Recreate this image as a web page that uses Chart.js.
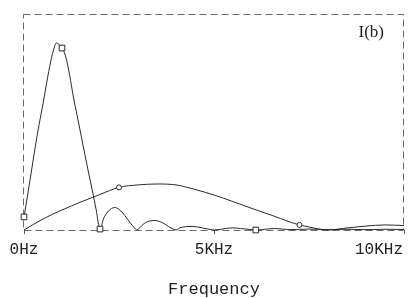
<!DOCTYPE html>
<html>
<head>
<meta charset="utf-8">
<script src="https://cdn.jsdelivr.net/npm/chart.js@4.4.1/dist/chart.umd.min.js"></script>
<style>
  body { margin: 0; background: #fff; }
  canvas { display: block; }
</style>
</head>
<body>
<canvas id="myChart" width="409" height="298"></canvas>
<script>
// frequency in kHz, current normalised to the main peak
const freqA = [0, 0.1, 0.2, 0.3, 0.4, 0.5, 0.6, 0.7, 0.8, 0.85, 0.9, 1.0, 1.1, 1.2, 1.3, 1.4, 1.5, 1.6, 1.7, 1.8, 1.9, 2.0,
               2.1, 2.2, 2.3, 2.4, 2.5, 2.6, 2.7, 2.8, 2.9, 2.97,
               3.1, 3.2, 3.3, 3.44, 3.6, 3.7, 3.8, 3.9, 4.0,
               4.1, 4.25, 4.45, 4.7, 4.9, 5.02,
               5.3, 5.5, 5.7, 6.0, 6.1, 6.4, 6.6, 6.8, 7.0, 7.5, 8.0, 8.5, 9.0, 9.5, 10.0];
const currentA = [0.070, 0.193, 0.321, 0.449, 0.567, 0.674, 0.791, 0.898, 0.979, 1.0, 0.995, 0.973, 0.925, 0.829, 0.711, 0.610, 0.508, 0.406, 0.305, 0.209, 0.107, 0.005,
                  0.064, 0.096, 0.115, 0.120, 0.110, 0.091, 0.064, 0.037, 0.013, 0.0,
                  0.024, 0.040, 0.048, 0.051, 0.043, 0.032, 0.019, 0.008, 0.0,
                  0.011, 0.018, 0.019, 0.011, 0.003, 0.0,
                  0.008, 0.011, 0.008, 0.002, 0.0, 0.005, 0.008, 0.005, 0.002, 0.005, 0.002, 0.004, 0.002, 0.004, 0.003];
const markersA = [0, 1.0, 2.0, 6.1];

const freqB = [0, 0.5, 1.0, 1.5, 2.0, 2.5, 3.0, 3.5, 4.0, 4.5, 5.0, 5.5, 6.0, 6.5, 7.0, 7.25, 7.5, 8.0, 8.5, 9.0, 9.5, 10.0];
const currentB = [0, 0.059, 0.107, 0.150, 0.190, 0.228, 0.241, 0.246, 0.241, 0.217, 0.187, 0.152, 0.115, 0.080, 0.043, 0.027, 0.016, 0, 0.011, 0.021, 0.027, 0.024];
const markersB = [2.5, 7.25];

const xTicks = [0, 5, 10];
const xTickLabels = ['0Hz', '5KHz', '10KHz'];
const traceLabel = 'I(b)';

const toPoints = (xs, ys) => xs.map((x, i) => ({x: x, y: ys[i]}));
const markRadius = (list, r) => ctx => (ctx.raw && list.includes(ctx.raw.x)) ? r : 0;

const frame = {
  id: 'frame',
  beforeDatasetsDraw(chart) {
    const c = chart.ctx, a = chart.chartArea;
    c.save();
    // dashed plot border
    c.strokeStyle = '#6a6a6a';
    c.lineWidth = 1;
    c.setLineDash([7, 4]);
    c.strokeRect(a.left - 0.5, a.top + 0.5, a.right - a.left, a.bottom - a.top);
    c.restore();
  },
  afterDraw(chart) {
    const c = chart.ctx, a = chart.chartArea, sx = chart.scales.x;
    c.save();
    // tick labels, kept inside the canvas
    c.fillStyle = '#222';
    c.font = '16px "Liberation Mono", monospace';
    c.textBaseline = 'middle';
    xTicks.forEach((v, i) => {
      const w = c.measureText(xTickLabels[i]).width;
      let px = sx.getPixelForValue(v) - w / 2;
      px = Math.max(2, Math.min(px, chart.width - 6 - w));
      c.fillText(xTickLabels[i], px, a.bottom + 20);
    });
    // trace name
    c.font = '17px "Liberation Serif", serif';
    c.textAlign = 'right';
    c.fillText(traceLabel, a.right - 20, a.top + 19);
    c.restore();
  }
};

const ctx = document.getElementById('myChart').getContext('2d');
const ibChart = new Chart(ctx, {
  type: 'line',
  data: {
    datasets: [{
      label: 'I(b) main',
      data: toPoints(freqA, currentA),
      clip: false,
      borderColor: '#2a2a2a',
      borderWidth: 1,
      cubicInterpolationMode: 'monotone',
      pointStyle: 'rect',
      pointRadius: markRadius(markersA, 4),
      pointBackgroundColor: '#fff',
      pointBorderColor: '#2a2a2a',
      pointBorderWidth: 1
    }, {
      label: 'I(b) second',
      data: toPoints(freqB, currentB),
      clip: false,
      borderColor: '#2a2a2a',
      borderWidth: 1,
      cubicInterpolationMode: 'monotone',
      pointStyle: 'circle',
      pointRadius: markRadius(markersB, 2.5),
      pointBackgroundColor: '#fff',
      pointBorderColor: '#2a2a2a',
      pointBorderWidth: 1
    }]
  },
  options: {
    responsive: false,
    animation: false,
    devicePixelRatio: 1,
    layout: { padding: { left: 24, right: 5, top: 14, bottom: 0 } },
    plugins: { legend: { display: false }, tooltip: { enabled: false } },
    scales: {
      x: {
        type: 'linear',
        min: 0,
        max: 10,
        afterBuildTicks: s => { s.ticks = xTicks.map(v => ({value: v})); },
        afterFit: s => { s.height = 68; s.paddingLeft = 0; s.paddingRight = 0; },
        ticks: { display: false },
        grid: { drawOnChartArea: false, drawTicks: true, tickLength: 4, color: '#555' },
        border: { display: false },
        title: {
          display: true,
          text: 'Frequency',
          color: '#222',
          font: { family: '"Liberation Mono", monospace', size: 17, lineHeight: 1 },
          padding: { top: 0, bottom: 0 }
        }
      },
      y: {
        display: false,
        min: 0,
        max: 1.155
      }
    }
  },
  plugins: [frame]
});
</script>
</body>
</html>
